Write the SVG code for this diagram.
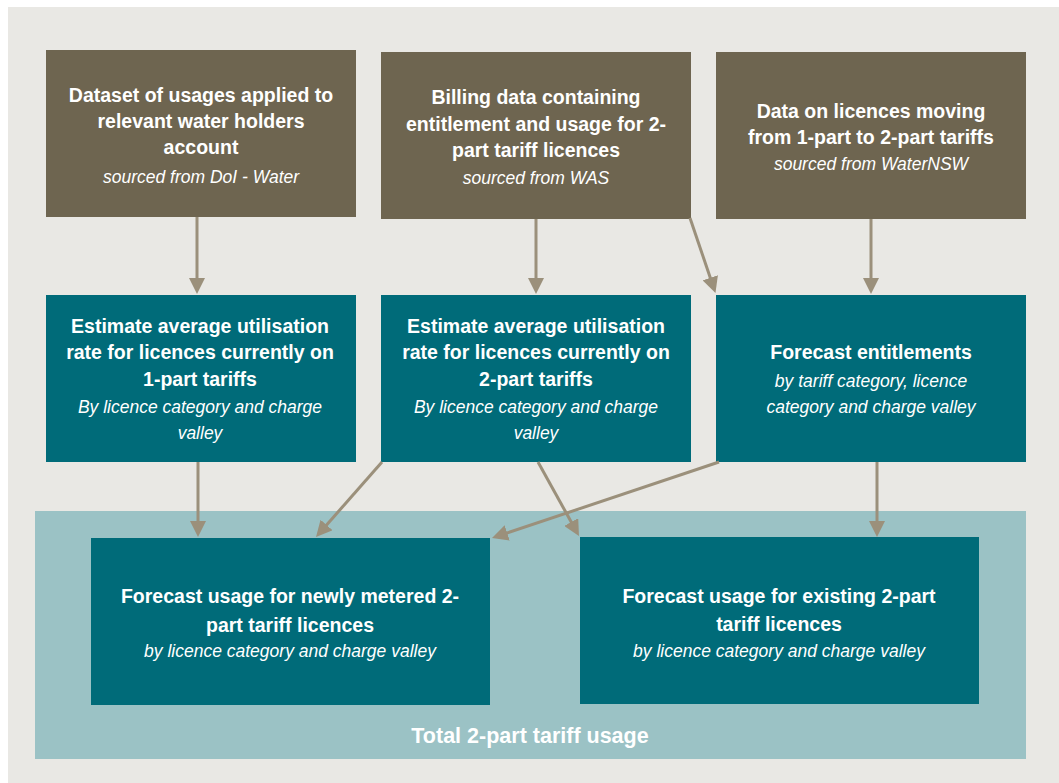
<svg xmlns="http://www.w3.org/2000/svg" width="1059" height="783" viewBox="0 0 1059 783">
<style>
.src{fill:#6E6550}
.mid{fill:#006B79}
.t{font-family:"Liberation Sans",Arial,sans-serif;font-weight:bold;font-size:19.5px;fill:#fff;text-anchor:middle}
.i{font-family:"Liberation Sans",Arial,sans-serif;font-style:italic;font-size:17.5px;fill:#fff;text-anchor:middle}
.c{stroke:#9B907B;stroke-width:3;fill:none;marker-end:url(#ah)}
</style>
<defs>
<marker id="ah" markerUnits="userSpaceOnUse" markerWidth="16" markerHeight="16" refX="8" refY="8" orient="auto" viewBox="0 0 16 16">
<path d="M0,0 L16,8 L0,16 z" fill="#9B907B"/>
</marker>
</defs>
<rect x="8" y="7" width="1051" height="776" fill="#E9E8E4"/>
<g id="total">
<rect x="35" y="511" width="991" height="248" fill="#9BC2C5"/>
<text class="t" x="530" y="743" style="font-size:21.5px">Total 2-part tariff usage</text>
</g>
<g id="src1">
<rect class="src" x="46" y="50" width="310" height="167"/>
<text class="t" x="201" y="102">Dataset of usages applied to</text>
<text class="t" x="201" y="128">relevant water holders</text>
<text class="t" x="201" y="154">account</text>
<text class="i" x="201" y="183">sourced from DoI - Water</text>
</g>
<g id="src2">
<rect class="src" x="381" y="52" width="310" height="167"/>
<text class="t" x="536" y="104">Billing data containing</text>
<text class="t" x="536" y="131">entitlement and usage for 2-</text>
<text class="t" x="536" y="157">part tariff licences</text>
<text class="i" x="536" y="184">sourced from WAS</text>
</g>
<g id="src3">
<rect class="src" x="716" y="52" width="310" height="167"/>
<text class="t" x="871" y="118">Data on licences moving</text>
<text class="t" x="871" y="144">from 1-part to 2-part tariffs</text>
<text class="i" x="871" y="170">sourced from WaterNSW</text>
</g>
<g id="est1">
<rect class="mid" x="46" y="295" width="310" height="167"/>
<text class="t" x="200" y="333">Estimate average utilisation</text>
<text class="t" x="200" y="359">rate for licences currently on</text>
<text class="t" x="200" y="386">1-part tariffs</text>
<text class="i" x="200" y="413">By licence category and charge</text>
<text class="i" x="200" y="439">valley</text>
</g>
<g id="est2">
<rect class="mid" x="381" y="295" width="310" height="167"/>
<text class="t" x="536" y="333">Estimate average utilisation</text>
<text class="t" x="536" y="359">rate for licences currently on</text>
<text class="t" x="536" y="386">2-part tariffs</text>
<text class="i" x="536" y="413">By licence category and charge</text>
<text class="i" x="536" y="439">valley</text>
</g>
<g id="ent">
<rect class="mid" x="716" y="295" width="310" height="167"/>
<text class="t" x="871" y="359">Forecast entitlements</text>
<text class="i" x="871" y="387">by tariff category, licence</text>
<text class="i" x="871" y="413">category and charge valley</text>
</g>
<g id="newly">
<rect class="mid" x="91" y="538" width="399" height="167"/>
<text class="t" x="290" y="603">Forecast usage for newly metered 2-</text>
<text class="t" x="290" y="632">part tariff licences</text>
<text class="i" x="290" y="657">by licence category and charge valley</text>
</g>
<g id="existing">
<rect class="mid" x="580" y="537" width="399" height="167"/>
<text class="t" x="779" y="603">Forecast usage for existing 2-part</text>
<text class="t" x="779" y="631">tariff licences</text>
<text class="i" x="779" y="657">by licence category and charge valley</text>
</g>
<g id="connectors">
<line class="c" x1="197" y1="217" x2="197" y2="286"/>
<line class="c" x1="536" y1="219" x2="536" y2="286"/>
<line class="c" x1="690" y1="218" x2="712.9" y2="285.4"/>
<line class="c" x1="871" y1="219" x2="871" y2="286"/>
<line class="c" x1="198" y1="462" x2="198" y2="529"/>
<line class="c" x1="382" y1="462" x2="321.3" y2="531"/>
<line class="c" x1="538" y1="462" x2="575.1" y2="529"/>
<line class="c" x1="719" y1="462" x2="499.6" y2="535.5"/>
<line class="c" x1="877" y1="462" x2="877" y2="529"/>
</g>
</svg>
